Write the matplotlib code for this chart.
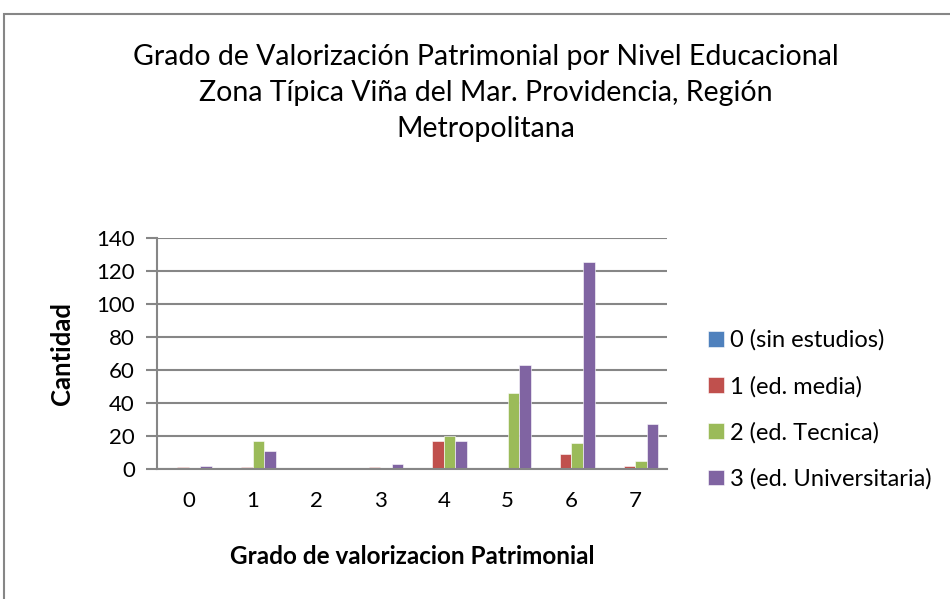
import numpy as np
import matplotlib.pyplot as plt
from matplotlib.patches import Rectangle

# --- DATI ---
categorias = ['0', '1', '2', '3', '4', '5', '6', '7']
series_nombres = ['0 (sin estudios)', '1 (ed. media)', '2 (ed. Tecnica)', '3 (ed. Universitaria)']
sin_estudios = [0, 0, 0, 0, 0, 0, 0, 0]
ed_media = [1, 1, 0, 1, 17, 0, 9, 2]
ed_tecnica = [0, 17, 0, 0, 20, 46, 16, 5]
ed_universitaria = [2, 11, 0, 3, 17, 63, 125, 27]

colores = ['#4F81BD', '#C0504D', '#9BBB59', '#8064A2']
GRIS = '#868686'
FUENTE = 'Lato'

plt.rcParams['font.family'] = [FUENTE, 'DejaVu Sans']

fig = plt.figure(figsize=(9.5, 5.99), dpi=100)
W, H = 950, 599

# marco exterior del grafico (sale por la derecha y abajo)
fig.patches.append(Rectangle((4 / W, -0.05), 1.1, 1 - 14 / H + 0.05,
                             transform=fig.transFigure, fill=False,
                             edgecolor=GRIS, linewidth=1.5))

ax = fig.add_axes([157 / W, 1 - 469 / H, (667 - 157) / W, (469 - 237.7) / H])

x = np.arange(len(categorias))
ancho = 1 / 5.5
series = [sin_estudios, ed_media, ed_tecnica, ed_universitaria]
for i, (vals, nombre) in enumerate(zip(series, series_nombres)):
    ax.bar(x + (i - 1.5) * ancho, vals, width=ancho, color=colores[i],
           label=nombre, edgecolor='white', linewidth=0.4, zorder=3)

ax.set_xlim(-0.5, len(categorias) - 0.5)
ax.set_ylim(0, 140)
ax.set_yticks(range(0, 141, 20))
ax.set_xticks(x)
ax.set_xticklabels(categorias)

ax.grid(True, axis='y', color=GRIS, linewidth=1.5, zorder=0)
for lado in ['top', 'right', 'bottom']:
    ax.spines[lado].set_visible(False)
ax.spines['left'].set_color(GRIS)
ax.spines['left'].set_linewidth(1.5)
ax.tick_params(axis='y', length=8, width=1.5, color=GRIS, labelsize=16, pad=8)
ax.tick_params(axis='x', length=0, labelsize=16, pad=16)

# linea del cero hasta la marca izquierda
ax.axhline(0, color=GRIS, linewidth=1.5, zorder=4, clip_on=False)

ax.set_ylabel('Cantidad', fontsize=18.5, fontweight='bold', labelpad=16)
ax.set_xlabel('Grado de valorizacion Patrimonial', fontsize=17.5, fontweight='bold', labelpad=24)

fig.text(486 / W, 1 - 93 / H,
         'Grado de Valorización Patrimonial por Nivel Educacional\n'
         'Zona Típica Viña del Mar. Providencia, Región\nMetropolitana',
         ha='center', va='center', fontsize=20.5, linespacing=1.5)

fig.legend(loc='upper left', bbox_to_anchor=(699 / W, 1 - 320 / H),
           frameon=False, fontsize=17, handlelength=0.65, handleheight=0.65,
           handletextpad=0.25, labelspacing=1.05, borderaxespad=0)

fig.savefig('out.png', dpi=100)
